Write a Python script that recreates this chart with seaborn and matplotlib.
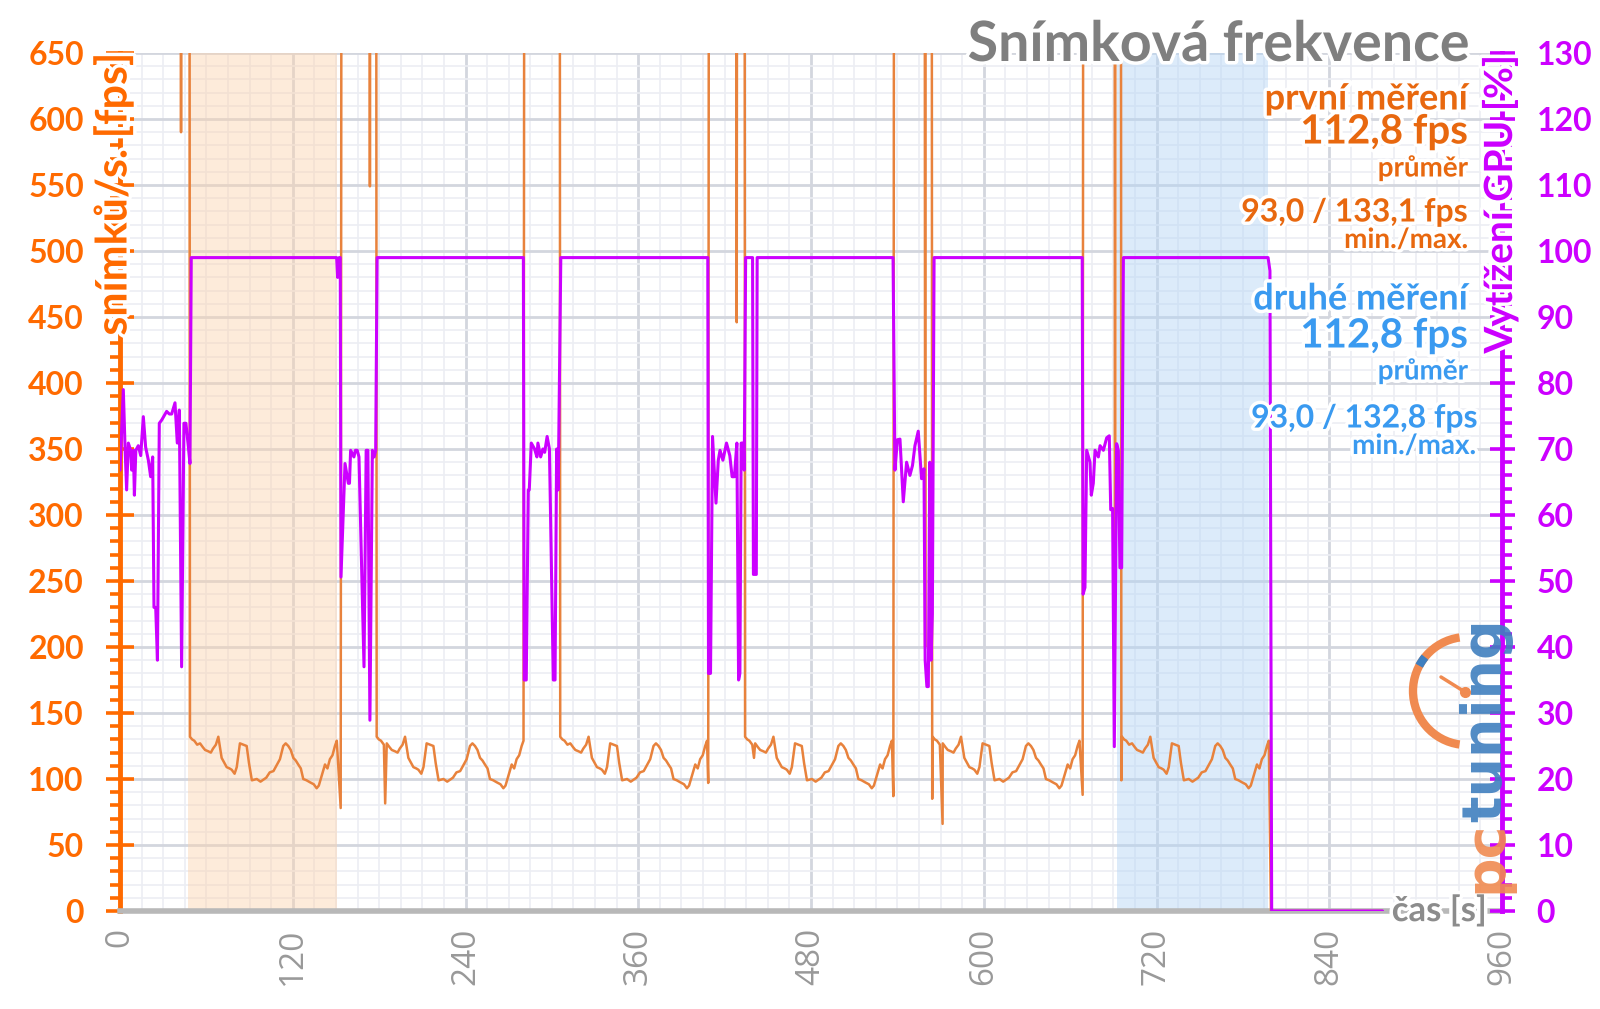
import numpy as np
import pandas as pd
import seaborn as sns
import matplotlib.pyplot as plt
import matplotlib.patheffects as pe
from matplotlib.ticker import MultipleLocator
from matplotlib.patches import Arc
from matplotlib.lines import Line2D

run_rel_t = [0, 1.5, 3, 5, 7, 9, 10.5, 12.7, 14.5, 16,
             18, 19.7, 22, 24, 25.5, 27.5, 29, 31, 32.5, 34.7,
             37, 39.4, 41, 43, 46.4, 49, 51, 53, 55.4, 58,
             60, 62.5, 64.8, 66.5, 68.3, 70, 71.8, 73.5, 75.2, 77,
             78.7, 81, 83.4, 86, 88, 89.5, 91.4, 93.8, 95.5, 97.2,
             99, 100.7, 102]
run_rel_fps = [132, 130, 129, 126, 127, 124, 122, 121, 120, 123,
               126, 132, 116, 112, 109, 108, 107, 104, 109, 127,
               126, 125, 112, 99, 100, 98, 99.5, 101, 105, 106,
               110, 115, 125, 127, 125, 122, 116, 114, 111, 108,
               100, 99, 97.5, 96, 93, 95, 102, 111, 108, 115,
               118, 125, 129]
run_starts = [48.6, 178.3, 305.8, 434.2, 564.5, 696.0]

# loading screens (fps far above the scale), glitches and the idle tail
extra_t = [0, 42.0, 42.4, 42.8, 48.2,
           153.3, 154.0, 173.2, 173.6, 174.0, 177.9,
           184.2,
           281.0, 305.4,
           408.6, 409.2, 428.0, 428.4, 428.8, 433.8,
           440.4,
           537.2, 537.8, 558.9, 559.3, 559.7, 563.8, 564.2,
           571.4,
           668.7, 669.2, 690.8, 691.2, 691.6, 695.2, 695.6,
           799.5, 877.0]
extra_fps = [1000, 1000, 590, 1000, 1000,
             78, 1000, 1000, 549, 1000, 1000,
             81.5,
             1000, 1000,
             97, 1000, 1000, 446, 1000, 1000,
             116,
             87, 1000, 1000, 200, 1000, 1000, 85,
             66,
             88, 1000, 1000, 250, 1000, 1000, 99,
             0, 0]

# GPU load [%]
gpu_t = [0, 2.3, 3.5, 4.6, 5.8, 7.4, 8.1, 9.3, 10, 11, 12.7, 14.4, 16.2, 17.8, 19.7,
         21.3, 22.7, 23.6, 24.8, 26, 27.3, 29, 30.6, 32.4, 34.3, 35.9, 38.2, 39.8,
         41.2, 42.8, 44.4, 45.8, 47.5, 48.6,
         49.5, 150.5, 151.2, 152.2, 153.0,
         153.5, 156.3, 158.6, 159.4, 160.2, 162.5, 163.5, 164.8, 166, 169.5, 171,
         172.2, 173.6, 175.3, 176.6, 177.6,
         178.6, 280.2,
         280.8, 282.2, 283.6, 284.3, 285.7, 288, 289.6, 290.3, 292.2, 293.8, 295,
         296.7, 298.3, 301, 302.2, 303.3, 304.4,
         306.2, 408.3,
         408.8, 410.2, 411.6, 414, 415.6, 416.8, 418.8, 421.3, 423.6, 425.2, 426.8,
         428.5, 429.7, 430.6, 431.5, 432.9, 433.6,
         434.6, 439.4, 440.0, 442.0, 442.6, 537.0,
         538.3, 540, 541.8, 544.1, 546.4, 548.7, 550.5, 552.2, 554.5, 556.8, 558.5,
         559.3, 560.5, 561.5, 562.5, 563.4, 564.3,
         565.5, 668.4,
         669.0, 670.3, 671.5, 673.8, 674.7, 676.1, 677.3, 679.6, 680.8, 683.1, 685.4,
         687.2, 688.2, 689.5, 690.7, 692.3, 693.5, 694.6, 695.8,
         697.0, 797.5, 798.8, 800.0, 877.0]
gpu_load = [66.8, 79, 70.3, 63.8, 70.9, 69.8, 66.8, 69.8, 63, 69.8, 70.5, 69, 74.9, 70.3, 68.3,
            65.8, 68.8, 46, 46, 38, 73.9, 74.4, 75, 75.7, 75.3, 75.3, 77, 70.9,
            75.9, 37, 73.9, 73.9, 70.3, 67.8,
            99, 99, 96, 99, 99,
            50.6, 67.8, 64.8, 64.8, 69.8, 68.8, 69.8, 69.8, 68.8, 37, 69.8,
            69.8, 28.9, 69.8, 68.8, 69.8,
            99, 99,
            35, 35, 63.8, 63.8, 70.9, 70, 68.8, 70.9, 68.8, 70, 69.5,
            71.9, 70, 35, 35, 70, 63.8,
            99, 99,
            36, 36, 71.9, 61.8, 68.3, 69.8, 68.3, 70.9, 69, 65.8, 65.8,
            70.9, 35, 36, 70.9, 70.9, 66.8,
            99, 99, 51, 51, 99, 99,
            66.8, 71.4, 71.5, 62, 68, 66, 67.5, 70.5, 72.7, 65.5, 67,
            38, 34, 34, 68, 38, 45,
            99, 99,
            48, 49, 69.8, 68, 63, 64.8, 69.8, 68.8, 70.5, 69.8, 71.7,
            72, 60.8, 61, 24.9, 70.8, 69.8, 52, 52,
            99, 99, 97, 0, 0]

x_ticks = [0, 120, 240, 360, 480, 600, 720, 840, 960]
fps_ticks = [0, 50, 100, 150, 200, 250, 300, 350, 400, 450, 500, 550, 600, 650]
gpu_ticks = [0, 10, 20, 30, 40, 50, 60, 70, 80, 90, 100, 110, 120, 130]
first_span = (47.4, 150.5)
second_span = (692.8, 797.7)

ORANGE = '#ff6a00'
ORANGE_TXT = '#e8680f'
FPS_LINE = '#e8823c'
MAGENTA = '#cc00ff'
BLUE = '#3a9af0'
GRAY = '#8c8c8c'
LOGO_OR = '#f08a50'
LOGO_BL = '#3f7fbf'

rows = [(s + t, v) for s in run_starts for t, v in zip(run_rel_t, run_rel_fps)]
rows += list(zip(extra_t, extra_fps))
fps_df = pd.DataFrame(rows, columns=['t', 'fps']).sort_values('t')
gpu_df = pd.DataFrame({'t': gpu_t, 'gpu': gpu_load})

sns.set_theme(style='white')
plt.rcParams['font.family'] = ['Lato', 'DejaVu Sans']

fig = plt.figure(figsize=(16, 10.09), dpi=100)
ax = fig.add_axes([120 / 1600, 1 - 911 / 1009, 1382 / 1600, 858 / 1009])
ax.set_facecolor('white')

ax.axvspan(*first_span, color='#fbd3ad', alpha=0.45, lw=0, zorder=0.6)
ax.axvspan(*second_span, color='#b3d4f6', alpha=0.45, lw=0, zorder=0.6)

sns.lineplot(data=fps_df, x='t', y='fps', ax=ax, color=FPS_LINE, lw=1.8,
             estimator=None, sort=False, zorder=3)
ax.set_xlim(0, 960)
ax.set_ylim(0, 650)
ax.set_xlabel('')
ax.set_ylabel('')

ax.set_axisbelow(True)
ax.xaxis.set_minor_locator(MultipleLocator(15))
ax.yaxis.set_minor_locator(MultipleLocator(10))
ax.grid(which='major', color='#d3d6de', lw=2.0)
ax.grid(which='minor', color='#eceef3', lw=1.2)

ax.set_xticks(x_ticks)
ax.set_xticklabels([str(v) for v in x_ticks], rotation=90, color='#999999',
                   fontsize=24, family=['Open Sans', 'DejaVu Sans'])
ax.set_yticks(fps_ticks)
ax.set_yticklabels([str(v) for v in fps_ticks], color=ORANGE, fontsize=23,
                   fontweight='bold')
ax.tick_params(axis='x', which='major', length=7, width=3, color='#b5b5b5',
               direction='out', pad=5)
ax.tick_params(axis='x', which='minor', length=0)
ax.tick_params(axis='y', which='major', length=20, width=2.6, color=ORANGE,
               direction='inout', pad=16)
ax.tick_params(axis='y', which='minor', length=7, width=2.6, color=ORANGE,
               direction='out')
for side in ['top', 'right']:
    ax.spines[side].set_visible(False)
ax.spines['left'].set_color(ORANGE)
ax.spines['left'].set_linewidth(3.5)
ax.spines['bottom'].set_color('#b8b8b8')
ax.spines['bottom'].set_linewidth(4)

ax2 = ax.twinx()
sns.lineplot(data=gpu_df, x='t', y='gpu', ax=ax2, color=MAGENTA, lw=2.2,
             estimator=None, sort=False)
ax2.set_ylim(0, 130)
ax2.set_xlim(0, 960)
ax2.set_ylabel('')
ax2.set_yticks(gpu_ticks)
ax2.set_yticklabels([str(v) for v in gpu_ticks], color=MAGENTA, fontsize=23,
                    fontweight='bold')
ax2.yaxis.set_minor_locator(MultipleLocator(2))
ax2.tick_params(axis='y', which='major', length=18, width=2.6, color=MAGENTA,
                direction='inout', pad=16)
ax2.tick_params(axis='y', which='minor', length=7, width=2.6, color=MAGENTA,
                direction='out')
for side in ['top', 'left', 'bottom']:
    ax2.spines[side].set_visible(False)
ax2.spines['right'].set_color(MAGENTA)
ax2.spines['right'].set_linewidth(3.5)

glow = [pe.withStroke(linewidth=5, foreground='white')]


def ftext(x, y, s, **kw):
    return fig.text(x / 1600, 1 - y / 1009, s, path_effects=glow, **kw)


ftext(113, 53, 'snímků/s. [fps]', rotation=90, ha='center', va='top',
      color=ORANGE, fontsize=31, fontweight='bold')
ftext(1500, 55, 'Vytížení GPU [%]', rotation=90, ha='center', va='top',
      color=MAGENTA, fontsize=28, fontweight='bold')
ftext(1487, 911, 'čas [s]', ha='right', va='center', color=GRAY,
      fontsize=25, fontweight='bold')

ftext(1469, 45, 'Snímková frekvence', ha='right', va='center', color='#7f7f7f',
      fontsize=40, fontweight='bold')

ftext(1468, 99, 'první měření', ha='right', va='center', color=ORANGE_TXT,
      fontsize=26, fontweight='bold')
ftext(1468, 132, '112,8 fps', ha='right', va='center', color=ORANGE_TXT,
      fontsize=29, fontweight='bold')
ftext(1468, 168, 'průměr', ha='right', va='center', color=ORANGE_TXT,
      fontsize=20, fontweight='bold')
ftext(1468, 212, '93,0 / 133,1 fps', ha='right', va='center', color=ORANGE_TXT,
      fontsize=23, fontweight='bold')
ftext(1468, 240, 'min./max.', ha='right', va='center', color=ORANGE_TXT,
      fontsize=20, fontweight='bold')

ftext(1468, 299, 'druhé měření', ha='right', va='center', color=BLUE,
      fontsize=26, fontweight='bold')
ftext(1468, 336, '112,8 fps', ha='right', va='center', color=BLUE,
      fontsize=29, fontweight='bold')
ftext(1468, 371, 'průměr', ha='right', va='center', color=BLUE,
      fontsize=20, fontweight='bold')
ftext(1478, 418, '93,0 / 132,8 fps', ha='right', va='center', color=BLUE,
      fontsize=23, fontweight='bold')
ftext(1476, 446, 'min./max.', ha='right', va='center', color=BLUE,
      fontsize=20, fontweight='bold')

# pctuning logo, bottom right
fig.text(1513 / 1600, 1 - 893 / 1009, 'pc', rotation=90, ha='right', va='bottom',
         color=LOGO_OR, fontsize=40, fontweight='bold', alpha=0.9,
         family='DejaVu Sans')
fig.text(1513 / 1600, 1 - 822 / 1009, 'tuning', rotation=90, ha='right', va='bottom',
         color=LOGO_BL, fontsize=40, fontweight='bold', alpha=0.9,
         family='DejaVu Sans')
r = 54
centre = (1467 / 1600, 1 - 691 / 1009)
fig.add_artist(Arc(centre, 2 * r / 1600, 2 * r / 1009, theta1=95, theta2=265,
                   color=LOGO_OR, lw=6, transform=fig.transFigure))
fig.add_artist(Arc(centre, 2 * r / 1600, 2 * r / 1009, theta1=128, theta2=140,
                   color=LOGO_BL, lw=6, transform=fig.transFigure))
fig.add_artist(Line2D([1441 / 1600, 1465 / 1600], [1 - 677 / 1009, 1 - 692 / 1009],
                      color=LOGO_OR, lw=2.5, transform=fig.transFigure))
fig.add_artist(Line2D([1465 / 1600], [1 - 692 / 1009], marker='o', ms=7,
                      color=LOGO_OR, transform=fig.transFigure))

fig.savefig('out.png', dpi=100, facecolor='white')
